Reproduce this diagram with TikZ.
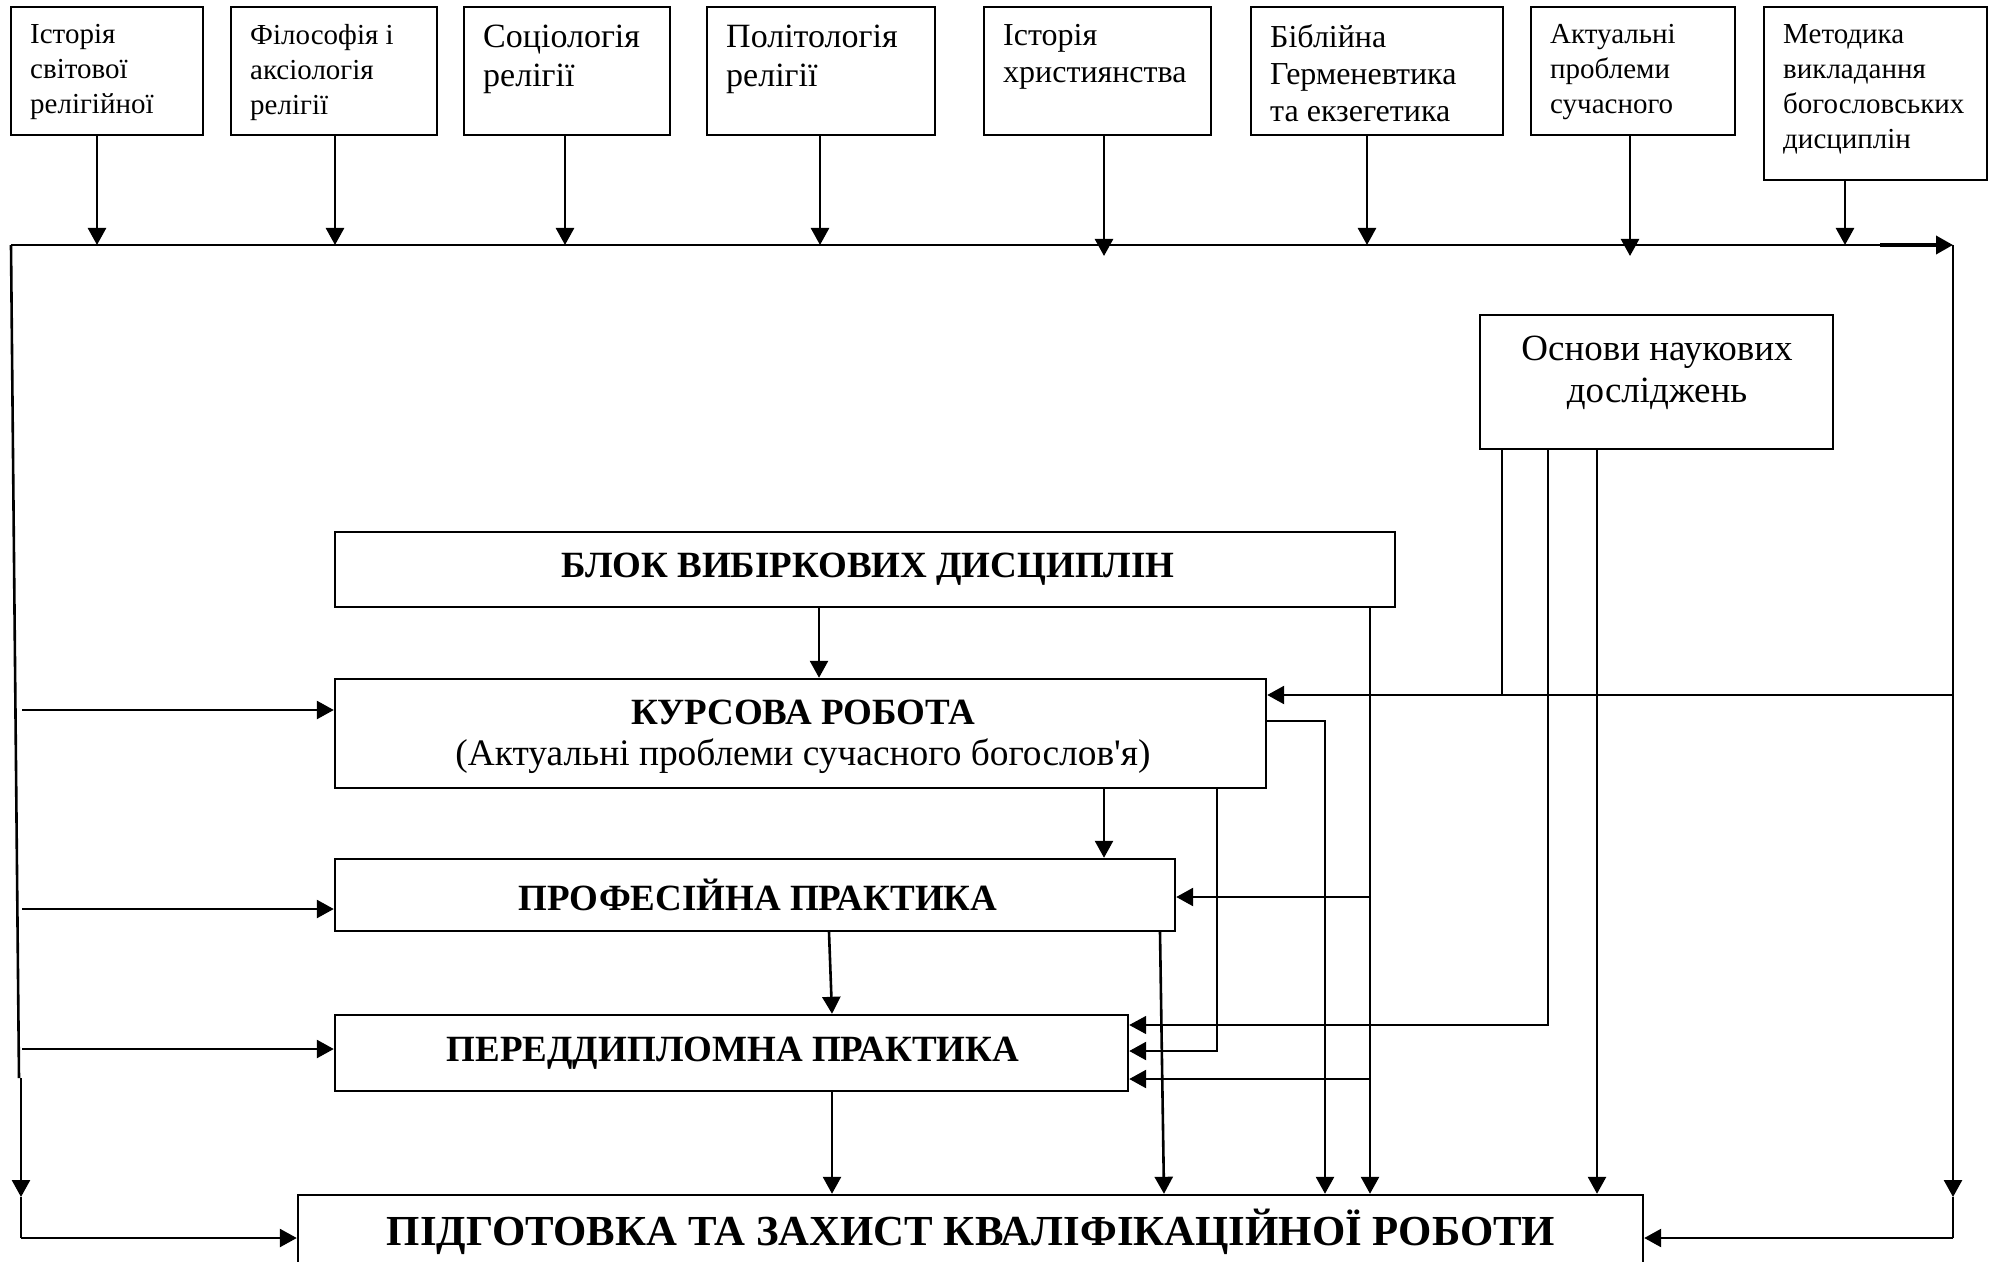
\documentclass[tikz,border=0pt]{standalone}
\usepackage{fontspec}
\setmainfont{Liberation Serif}
\usetikzlibrary{arrows.meta,calc,fit}
\newcommand\fsz[2]{\fontsize{#1}{#2}\selectfont}
\newcommand\straightquote{{\XeTeXglyph\XeTeXglyphindex "quotesingle"\relax}}
\begin{document}
\begin{tikzpicture}[x=0.5pt,y=-0.5pt,
  box/.style={draw,line width=1.2pt,inner sep=0pt},
  ln/.style={line width=1.3pt},
  thinln/.style={line width=0.9pt},
  arr/.style={line width=1.3pt,-{Triangle[length=8.5pt,width=9pt]}},
  ttext/.style={anchor=north west,inner sep=0pt,align=left},
  small/.style={font=\fsz{14.5}{17.5}},
  mid/.style={font=\fsz{16}{18.5}},
  big/.style={font=\fsz{17}{19.5}},
  btext/.style={inner sep=0pt,align=center,font=\bfseries\fsz{18.5}{22}},
]
\useasboundingbox (0,0) rectangle (2006,1262);
\clip (0,0) rectangle (2006,1262);

% top boxes
\node[box,fit={(11,7)(203,135)}] (B1) {};
\node[box,fit={(231,7)(437,135)}] (B2) {};
\node[box,fit={(464,7)(670,135)}] (B3) {};
\node[box,fit={(707,7)(935,135)}] (B4) {};
\node[box,fit={(984,7)(1211,135)}] (B5) {};
\node[box,fit={(1251,7)(1503,135)}] (B6) {};
\node[box,fit={(1531,7)(1735,135)}] (B7) {};
\node[box,fit={(1764,7)(1987,180)}] (B8) {};

\node[ttext,small] (T1) at ($(B1.north west)+(20,18)$) {Історія\\світової\\релігійної};
\node[ttext,small] (T2) at ($(B2.north west)+(20,18)$) {Філософія і\\аксіологія\\релігії};
\node[ttext,big] (T3) at ($(B3.north west)+(20,19)$) {Соціологія\\релігії};
\node[ttext,big] (T4) at ($(B4.north west)+(20,19)$) {Політологія\\релігії};
\node[ttext,mid] (T5) at ($(B5.north west)+(20,18)$) {Історія\\християнства};
\node[ttext,mid] (T6) at ($(B6.north west)+(20,18)$) {Біблійна\\Герменевтика\\та екзегетика};
\node[ttext,small] (T7) at ($(B7.north west)+(20,18)$) {Актуальні\\проблеми\\сучасного};
\node[ttext,small] (T8) at ($(B8.north west)+(20,18)$) {Методика\\викладання\\богословських\\дисциплін};

% middle boxes
\node[box,fit={(1480,315)(1833,449)}] (OSN) {};
\node[inner sep=0pt,align=center,anchor=north,font=\fsz{18.5}{21}] (OSNt) at (1657,336) {Основи наукових\\досліджень};

\node[box,fit={(335,532)(1395,607)}] (BLOK) {};
\node[btext] (BLOKt) at (868,569) {БЛОК ВИБІРКОВИХ ДИСЦИПЛІН};

\node[box,fit={(335,679)(1266,788)}] (KUR) {};
\node[inner sep=0pt,align=center,font=\fsz{18.7}{20.5}] (KURt) at (803,737) {{\bfseries\fsz{18.5}{20.5}КУРСОВА РОБОТА}\\(Актуальні проблеми сучасного богослов\straightquote я)};

\node[box,fit={(335,859)(1175,931)}] (PROF) {};
\node[btext] (PROFt) at (758,895) {ПРОФЕСІЙНА ПРАКТИКА};

\node[box,fit={(335,1015)(1128,1091)}] (PERED) {};
\node[btext] (PEREDt) at (733,1053) {ПЕРЕДДИПЛОМНА ПРАКТИКА};

\node[box,fit={(298,1195)(1643,1290)}] (PID) {};
\node[inner sep=0pt,anchor=base,font=\bfseries\fsz{21.4}{24}] (PIDt) at (971,1245) {ПІДГОТОВКА ТА ЗАХИСТ КВАЛІФІКАЦІЙНОЇ РОБОТИ};

% frame coordinates
\coordinate (TL) at (11,245);
\coordinate (TRa) at (1880,245);
\coordinate (TR) at (1953,245);
\coordinate (LB) at (19,1078);
\coordinate (LA) at (21,1078);
\coordinate (LD) at (21,1197);
\coordinate (LC) at (21,1238);
\coordinate (RA) at (1953,1075);
\coordinate (RD) at (1953,1197);
\coordinate (RC) at (1953,1238);

% top arrows into the bus
\foreach \b/\x/\y in {B1/97/245,B2/335/245,B3/565/245,B4/820/245,B5/1104/256,B6/1367/245,B7/1630/256,B8/1845/245}
  \draw[arr] (\b.south -| \x,0) -- (\x,\y);

% frame
\draw[ln] (TL) -- (TRa);
\draw[arr,line width=1.8pt] (TRa) -- (TR);
\draw[ln] (TL) -- (LB);
\draw[arr] (LA) -- (LD);
\draw[ln] (LD) -- (LC);
\draw[arr] (LC) -- (PID.west |- LC);
\draw[ln] (TR) -- (RA);
\draw[arr] (RA) -- (RD);
\draw[ln] (RD) -- (RC);
\draw[arr] (RC) -- (PID.east |- RC);

% left feeds
\draw[arr] (22,710) -- (KUR.west |- 0,710);
\draw[arr] (22,909) -- (PROF.west |- 0,909);
\draw[arr] (22,1049) -- (PERED.west |- 0,1049);

% right feed into course work
\draw[arr] (1953,695) -- (KUR.east |- 0,695);

% vertical chain
\draw[arr] (BLOK.south -| 819,0) -- (KUR.north -| 819,0);
\draw[arr] (KUR.south -| 1104,0) -- (PROF.north -| 1104,0);
\draw[arr] (PROF.south -| 829,0) -- (PERED.north -| 832,0);
\draw[arr] (PERED.south -| 832,0) -- (PID.north -| 832,0);
\draw[arr] (PROF.south -| 1160,0) -- (PID.north -| 1164,0);
\draw[arr] (KUR.east |- 0,721) -| (PID.north -| 1325,0);
\draw[arr] (BLOK.south -| 1370,0) -- (PID.north -| 1370,0);
\draw[arr] (1370,897) -- (PROF.east |- 0,897);
\draw[arr] (1370,1079) -- (PERED.east |- 0,1079);
\draw[arr] (KUR.south -| 1217,0) |- (PERED.east |- 0,1051);

% research basics
\draw[thinln] (OSN.south -| 1502,0) -- (1502,695);
\draw[arr,line width=0.9pt] (OSN.south -| 1548,0) |- (PERED.east |- 0,1025);
\draw[arr] (OSN.south -| 1597,0) -- (PID.north -| 1597,0);
\end{tikzpicture}
\end{document}
